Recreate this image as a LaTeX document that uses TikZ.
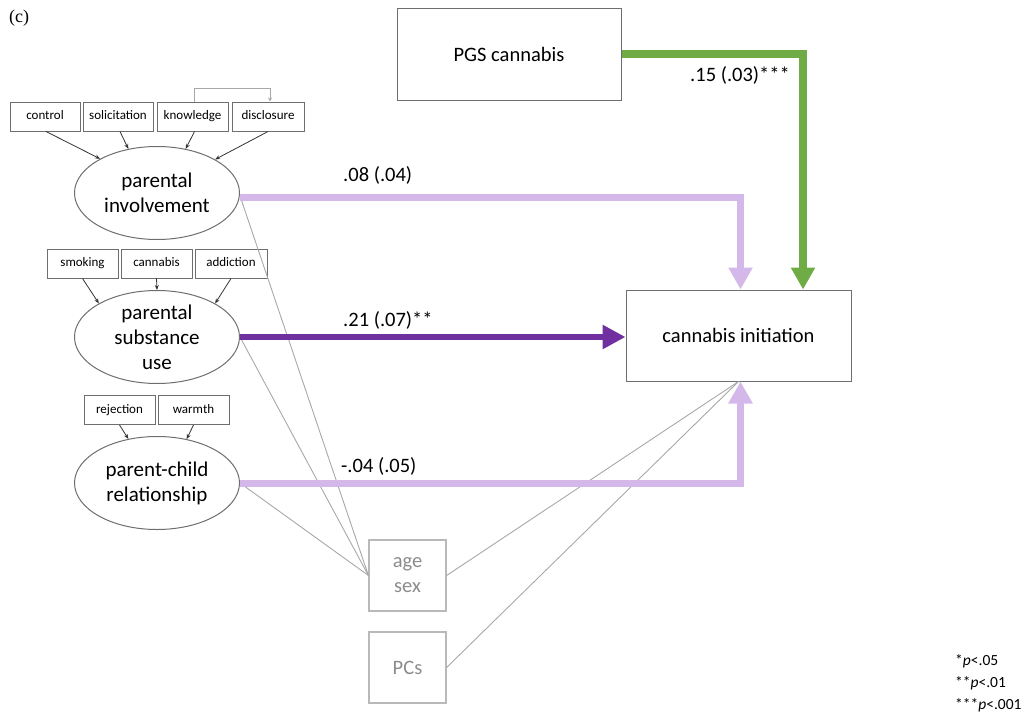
\documentclass[tikz,border=0pt]{standalone}
\usepackage{fontspec}
\setmainfont{Carlito}
\newfontfamily\serifc{Liberation Serif}
\usetikzlibrary{shapes.geometric,arrows.meta}
\definecolor{lilac}{HTML}{D5B8EA}
\definecolor{purp}{HTML}{7030A0}
\definecolor{grn}{HTML}{6FAC46}
\definecolor{edge}{HTML}{6E6E6E}
\definecolor{lgray}{HTML}{A8A8A8}
\definecolor{tgray}{HTML}{8C8C8C}
\tikzset{
  indbox/.style={draw=edge,line width=1pt,rectangle,inner sep=0pt,minimum height=29pt,text height=9pt,text depth=2.5pt,font=\fontsize{13}{14}\selectfont},
  latent/.style={draw=edge,line width=1pt,ellipse,inner sep=0pt,minimum width=165pt,minimum height=93pt,align=center,font=\fontsize{21}{25}\selectfont},
  bigbox/.style={draw=edge,line width=1pt,rectangle,inner sep=0pt,font=\fontsize{20.5}{25}\selectfont},
  covbox/.style={draw=lgray!80,line width=1.2pt,rectangle,inner sep=0pt,minimum width=77pt,minimum height=71pt,align=center,text=tgray,font=\fontsize{20.5}{25}\selectfont},
  loadarrow/.style={draw=black!80,line width=0.8pt,-{Stealth[length=5pt,width=4pt]}},
  corrline/.style={draw=lgray,line width=0.9pt},
  lilacpath/.style={draw=lilac,line width=7pt,-{Triangle[length=22pt,width=23pt]}},
  purppath/.style={draw=purp,line width=6pt,-{Triangle[length=23pt,width=23pt]}},
  grnpath/.style={draw=grn,line width=7.5pt,-{Triangle[length=22pt,width=23pt]}},
  coef/.style={anchor=west,inner sep=0pt,font=\fontsize{20.5}{25}\selectfont}
}
\begin{document}
\begin{tikzpicture}[x=1pt,y=-1pt]
\useasboundingbox (0,0) rectangle (1033,720);
\node[font=\serifc\fontsize{18}{20}\selectfont,anchor=west,inner sep=0pt] (lab) at (9,18) {(c)};

% big boxes
\node[bigbox,minimum width=224pt,minimum height=92pt] (pgs) at (509,54) {PGS cannabis};
\node[bigbox,minimum width=225pt,minimum height=91pt] (ci) at (738.5,335.5) {cannabis initiation};

% latent variables
\node[latent] (inv) at (157,193) {parental\\involvement};
\node[latent] (psu) at (157,337) {parental\\substance\\use};
\node[latent] (pcr) at (157,483) {parent-child\\relationship};

% indicators
\node[indbox,minimum width=70pt] (ctrl) at (45,116.5) {control};
\node[indbox,minimum width=70pt] (soli) at (118,116.5) {solicitation};
\node[indbox,minimum width=71pt] (know) at (192.5,116.5) {knowledge};
\node[indbox,minimum width=72pt] (disc) at (268,116.5) {disclosure};
\node[indbox,minimum width=71pt] (smok) at (82.5,263.5) {smoking};
\node[indbox,minimum width=71pt] (cann) at (156.5,263.5) {cannabis};
\node[indbox,minimum width=72pt] (addi) at (231,263.5) {addiction};
\node[indbox,minimum width=71pt] (reje) at (119.5,410) {rejection};
\node[indbox,minimum width=71pt] (warm) at (193.5,410) {warmth};

% covariates
\node[covbox] (agesex) at (407.5,575.5) {age\\sex};
\node[covbox] (pcs) at (407.5,667.5) {PCs};

% loadings
\draw[loadarrow] ([xshift=1pt]ctrl.south) -- (inv.149);
\draw[loadarrow] ([xshift=2pt]soli.south) -- (inv.123);
\draw[loadarrow] ([xshift=2pt]know.south) -- (inv.57);
\draw[loadarrow] (disc.south) -- (inv.30);
\draw[loadarrow] (smok.south) -- (psu.150);
\draw[loadarrow] (cann.south) -- (psu.90);
\draw[loadarrow] (addi.south) -- (psu.30);
\draw[loadarrow] (reje.south) -- (pcr.123);
\draw[loadarrow] (warm.south) -- (pcr.56);

% covariance knowledge-disclosure
\draw[draw=lgray,line width=0.9pt,-{Stealth[length=4pt,width=4pt]}] ([xshift=2pt]know.north) -- ++(0,-13) -| ([xshift=2pt]disc.north);

% covariate lines
\draw[corrline] ([yshift=-3pt]inv.east) -- (agesex.west);
\draw[corrline] (psu.east) -- (agesex.west);
\draw[corrline] (pcr.east) -- (agesex.west);
\draw[corrline] (agesex.east) -- (ci.south);
\draw[corrline] (pcs.east) -- (ci.south);

% structural paths
\draw[lilacpath] ([yshift=-4pt]inv.east) -| ([xshift=2pt]ci.north);
\draw[purppath] (psu.east) -- (ci.west |- psu.east);
\draw[lilacpath] (pcr.east) -| ([xshift=2pt]ci.south);
\draw[grnpath] (pgs.east) -| ([xshift=64.5pt]ci.north);

% coefficients
\node[coef] (c1) at (343,175) {.08 (.04)};
\node[coef] (c2) at (343,320) {.21 (.07)**};
\node[coef] (c3) at (341,466) {-.04 (.05)};
\node[coef] (c4) at (690,75) {.15 (.03)***};

% footnote
\node[anchor=north west,inner sep=0pt,align=left,font=\fontsize{15.5}{22}\selectfont] (note) at (955,654) {*\textit{p}<.05\\**\textit{p}<.01\\***\textit{p}<.001};
\end{tikzpicture}
\end{document}
